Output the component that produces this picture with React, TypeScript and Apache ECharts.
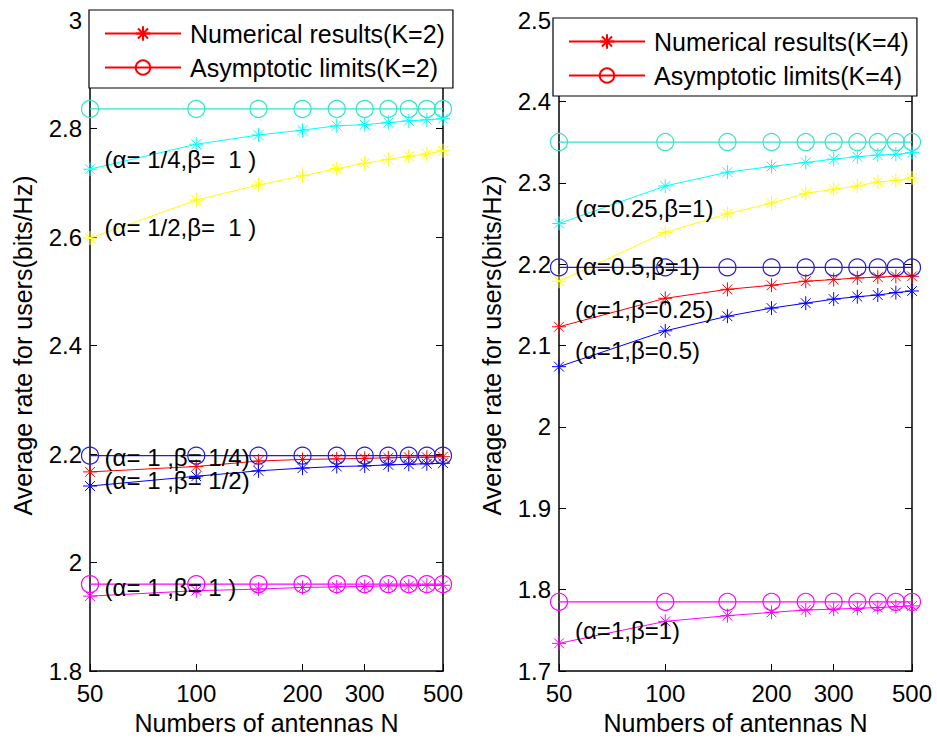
import React, { useEffect, useRef } from "react";
import * as echarts from "echarts";

// ---------- data ----------
const antennas = [50, 100, 150, 200, 250, 300, 350, 400, 450, 500];
const xTickValues = [50, 100, 200, 300, 500];

// K = 2 (left panel)
const k2AlphaQuarter = [2.725, 2.771, 2.788, 2.797, 2.805, 2.807, 2.811, 2.814, 2.816, 2.818];
const k2AlphaHalf = [2.598, 2.668, 2.696, 2.713, 2.726, 2.736, 2.743, 2.749, 2.753, 2.759];
const k2BetaQuarter = [2.167, 2.177, 2.187, 2.19, 2.191, 2.192, 2.193, 2.194, 2.194, 2.195];
const k2BetaHalf = [2.141, 2.159, 2.169, 2.174, 2.177, 2.178, 2.18, 2.181, 2.182, 2.183];
const k2AllOne = [1.938, 1.948, 1.951, 1.954, 1.955, 1.956, 1.957, 1.957, 1.958, 1.958];
const k2LimitAlpha = [2.836, 2.836, 2.836, 2.836, 2.836, 2.836, 2.836, 2.836, 2.836, 2.836];
const k2LimitBeta = [2.197, 2.197, 2.197, 2.197, 2.197, 2.197, 2.197, 2.197, 2.197, 2.197];
const k2LimitOne = [1.96, 1.96, 1.96, 1.96, 1.96, 1.96, 1.96, 1.96, 1.96, 1.96];

// K = 4 (right panel)
const k4AlphaQuarter = [2.25, 2.296, 2.313, 2.32, 2.325, 2.329, 2.332, 2.334, 2.335, 2.337];
const k4AlphaHalf = [2.179, 2.239, 2.262, 2.275, 2.287, 2.292, 2.296, 2.301, 2.303, 2.306];
const k4BetaQuarter = [2.123, 2.158, 2.169, 2.174, 2.179, 2.181, 2.183, 2.184, 2.185, 2.185];
const k4BetaHalf = [2.074, 2.118, 2.136, 2.146, 2.152, 2.157, 2.16, 2.162, 2.165, 2.167];
const k4AllOne = [1.734, 1.761, 1.768, 1.772, 1.775, 1.776, 1.777, 1.778, 1.779, 1.78];
const k4LimitAlpha = [2.35, 2.35, 2.35, 2.35, 2.35, 2.35, 2.35, 2.35, 2.35, 2.35];
const k4LimitBeta = [2.196, 2.196, 2.196, 2.196, 2.196, 2.196, 2.196, 2.196, 2.196, 2.196];
const k4LimitOne = [1.785, 1.785, 1.785, 1.785, 1.785, 1.785, 1.785, 1.785, 1.785, 1.785];

// annotations: [N, value, text]
const k2Notes: [number, number, string][] = [
  [55, 2.743, "(α= 1/4,β=  1 )"],
  [55, 2.617, "(α= 1/2,β=  1 )"],
  [55, 2.194, "(α= 1 ,β= 1/4)"],
  [55, 2.152, "(α= 1 ,β= 1/2)"],
  [55, 1.953, "(α= 1 ,β= 1 )"],
];
const k4Notes: [number, number, string][] = [
  [55.5, 2.268, "(α=0.25,β=1)"],
  [55.5, 2.197, "(α=0.5,β=1)"],
  [55.5, 2.144, "(α=1,β=0.25)"],
  [55.5, 2.094, "(α=1,β=0.5)"],
  [55.5, 1.75, "(α=1,β=1)"],
];

const legendK2 = ["Numerical results(K=2)", "Asymptotic limits(K=2)"];
const legendK4 = ["Numerical results(K=4)", "Asymptotic limits(K=4)"];

const xTitle = "Numbers of antennas N";
const yTitle = "Average rate for users(bits/Hz)";

// ---------- styling ----------
const FONT = "Liberation Sans, Arial, sans-serif";
const STAR = "path://M10,0L10,20M0,10L20,10M3,3L17,17M3,17L17,3";
const RED = "#ff0000";
const BLUE = "#0000ff";
const CYAN = "#00ffff";
const YELLOW = "#ffff00";
const MAGENTA = "#ff00ff";
const TURQ = "#33e6c8";
const INDIGO = "#2a1ad0";

const pairs = (vals: number[]) => antennas.map((n, i) => [n, vals[i]]);

function numSeries(name: string, vals: number[], color: string, gi: number) {
  return {
    name,
    type: "line",
    xAxisIndex: gi * 2,
    yAxisIndex: gi * 2,
    data: pairs(vals),
    symbol: STAR,
    symbolSize: 14,
    showAllSymbol: true,
    lineStyle: { color, width: 1 },
    itemStyle: { color, borderColor: color, borderWidth: 1 },
    emphasis: { disabled: true },
    z: 3,
  };
}
function limSeries(name: string, vals: number[], color: string, gi: number) {
  return {
    name,
    type: "line",
    xAxisIndex: gi * 2,
    yAxisIndex: gi * 2,
    data: pairs(vals),
    symbol: "circle",
    symbolSize: 17,
    showAllSymbol: true,
    lineStyle: { color, width: 1.2 },
    itemStyle: { color: "rgba(0,0,0,0)", borderColor: color, borderWidth: 1.2 },
    emphasis: { disabled: true },
    z: 3,
  };
}
function legendDummy(name: string, star: boolean, gi: number) {
  return {
    name,
    type: "line",
    xAxisIndex: gi * 2,
    yAxisIndex: gi * 2,
    data: [],
    symbol: star ? STAR : "circle",
    symbolSize: star ? 14 : 17,
    lineStyle: { color: RED, width: 1.2 },
    itemStyle: star
      ? { color: RED, borderColor: RED, borderWidth: 1 }
      : { color: "rgba(0,0,0,0)", borderColor: RED, borderWidth: 1.2 },
  };
}
function noteSeries(notes: [number, number, string][], gi: number) {
  return {
    type: "scatter",
    xAxisIndex: gi * 2,
    yAxisIndex: gi * 2,
    data: notes.map((n) => [n[0], n[1], n[2]]),
    symbolSize: 0,
    itemStyle: { color: "#000", opacity: 1 },
    label: {
      show: true,
      position: [0, 0],
      align: "left",
      verticalAlign: "middle",
      formatter: (p: any) => p.data[2],
      fontSize: 24,
      fontFamily: FONT,
      color: "#000",
      opacity: 1,
      textBorderWidth: 0,
    },
    emphasis: { disabled: true },
    silent: true,
    z: 6,
  };
}

const gridBoxes = [
  { left: 90, top: 20, width: 353, height: 651 },
  { left: 559, top: 20, width: 353, height: 651 },
];
const yRanges = [
  { min: 1.8, max: 3, interval: 0.2 },
  { min: 1.7, max: 2.5, interval: 0.1 },
];

function xAxes(gi: number) {
  const base = {
    type: "log",
    logBase: 10,
    gridIndex: gi,
    min: 50,
    max: 500,
    splitLine: { show: false },
    axisLine: { show: true, lineStyle: { color: "#000", width: 1.5 } },
    axisTick: { show: true, inside: true, length: 7, lineStyle: { color: "#000", width: 1 }, customValues: xTickValues },
  };
  return [
    {
      ...base,
      position: "bottom",
      axisLabel: { show: true, customValues: xTickValues, fontSize: 24, fontFamily: FONT, color: "#000", margin: 10 },
      name: xTitle,
      nameLocation: "middle",
      nameGap: 39,
      nameTextStyle: { fontSize: 25, fontFamily: FONT, color: "#000" },
    },
    { ...base, position: "top", axisLabel: { show: false } },
  ];
}
function yAxes(gi: number) {
  const base = {
    type: "value",
    gridIndex: gi,
    ...yRanges[gi],
    splitLine: { show: false },
    axisLine: { show: true, lineStyle: { color: "#000", width: 1.5 } },
    axisTick: { show: true, inside: true, length: 7, lineStyle: { color: "#000", width: 1 } },
  };
  return [
    {
      ...base,
      position: "left",
      axisLabel: { show: true, fontSize: 24, fontFamily: FONT, color: "#000", margin: 8 },
      name: yTitle,
      nameLocation: "middle",
      nameRotate: 90,
      nameGap: 55,
      nameTextStyle: { fontSize: 25, fontFamily: FONT, color: "#000" },
    },
    { ...base, position: "right", axisLabel: { show: false } },
  ];
}

function legendBox(names: string[], left: number, top: number) {
  return {
    data: names,
    orient: "vertical",
    left,
    top,
    padding: [11, 8, 8, 15],
    itemGap: 9,
    itemWidth: 76,
    itemHeight: 18,
    selectedMode: false,
    backgroundColor: "#fff",
    borderColor: "#000",
    borderWidth: 1.2,
    borderRadius: 0,
    textStyle: { fontSize: 25, lineHeight: 25, fontFamily: FONT, color: "#000", padding: [0, 0, 0, 4] },
    z: 10,
  };
}

export default function App() {
  const ref = useRef<HTMLDivElement>(null);
  useEffect(() => {
    if (!ref.current) return;
    const chart = echarts.init(ref.current, undefined, { renderer: "svg" });
    const option: any = {
      animation: false,
      backgroundColor: "#fff",
      textStyle: { fontFamily: FONT },
      grid: gridBoxes.map((g) => ({ ...g, containLabel: false })),
      xAxis: [...xAxes(0), ...xAxes(1)],
      yAxis: [...yAxes(0), ...yAxes(1)],
      legend: [legendBox(legendK2, 89, 10), legendBox(legendK4, 553, 18)],
      series: [
        legendDummy(legendK2[0], true, 0),
        legendDummy(legendK2[1], false, 0),
        legendDummy(legendK4[0], true, 1),
        legendDummy(legendK4[1], false, 1),
        // K=2
        numSeries("k2q", k2AlphaQuarter, CYAN, 0),
        numSeries("k2h", k2AlphaHalf, YELLOW, 0),
        numSeries("k2bq", k2BetaQuarter, RED, 0),
        numSeries("k2bh", k2BetaHalf, BLUE, 0),
        numSeries("k2o", k2AllOne, MAGENTA, 0),
        limSeries("k2la", k2LimitAlpha, TURQ, 0),
        limSeries("k2lb", k2LimitBeta, INDIGO, 0),
        limSeries("k2lo", k2LimitOne, MAGENTA, 0),
        noteSeries(k2Notes, 0),
        // K=4
        numSeries("k4q", k4AlphaQuarter, CYAN, 1),
        numSeries("k4h", k4AlphaHalf, YELLOW, 1),
        numSeries("k4bq", k4BetaQuarter, RED, 1),
        numSeries("k4bh", k4BetaHalf, BLUE, 1),
        numSeries("k4o", k4AllOne, MAGENTA, 1),
        limSeries("k4la", k4LimitAlpha, TURQ, 1),
        limSeries("k4lb", k4LimitBeta, INDIGO, 1),
        limSeries("k4lo", k4LimitOne, MAGENTA, 1),
        noteSeries(k4Notes, 1),
      ],
    };
    chart.setOption(option);
    return () => chart.dispose();
  }, []);
  return (
    <div
      ref={ref}
      style={{ position: "fixed", left: 0, top: 0, width: 937, height: 740, background: "#fff" }}
    />
  );
}
